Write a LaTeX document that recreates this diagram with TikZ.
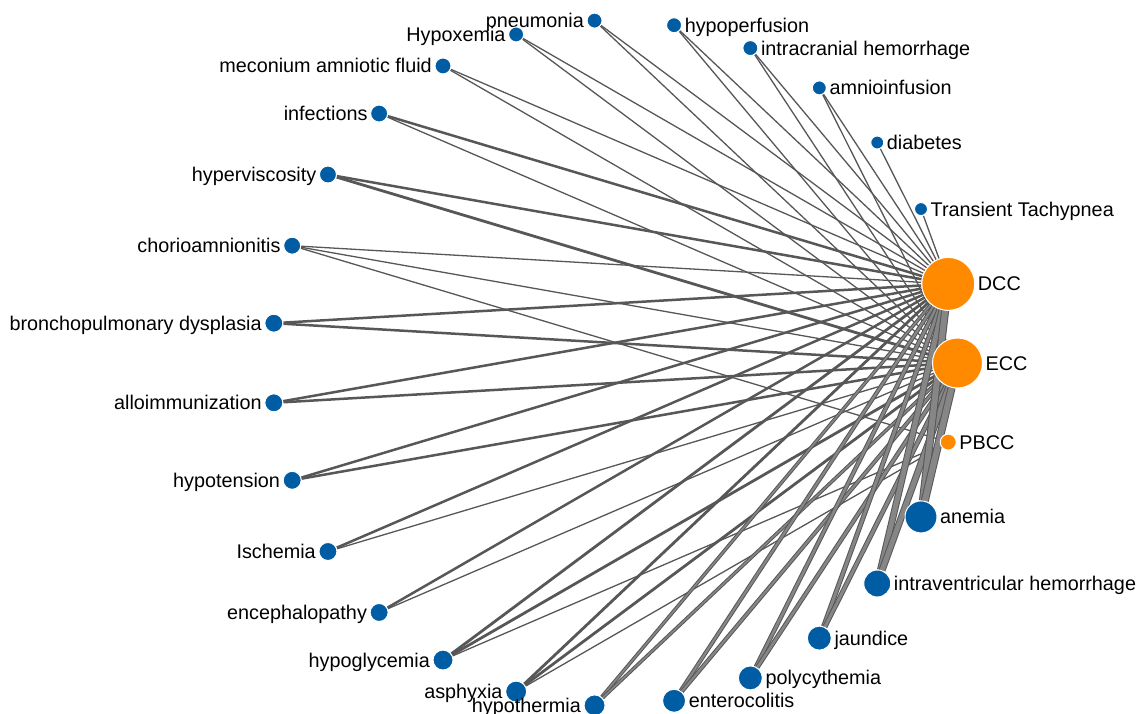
\documentclass[tikz,border=0pt]{standalone}
\usepackage{fontspec}
\setmainfont{Liberation Sans}
\definecolor{nblue}{HTML}{005CA3}
\definecolor{norange}{HTML}{FF8A00}
\definecolor{edark}{HTML}{575757}
\definecolor{elight}{HTML}{868686}
\pgfdeclarelayer{edgelayer}
\pgfsetlayers{edgelayer,main}
\newcommand\netnode[6]{%
  \node[vtx, fill=#4, minimum size={2*#3*1pt}] (#1) at ({614.5+343*cos(#2*360/27)},{363-343*sin(#2*360/27)}) {};
  \ifx R#6
    \node[lbl, anchor=base west] (#1-lbl) at ([xshift=2.5pt,yshift=-7pt]#1.east) {#5};
  \else
    \node[lbl, anchor=base east] (#1-lbl) at ([xshift=-2.5pt,yshift=-7pt]#1.west) {#5};
  \fi}
\begin{document}
\begin{tikzpicture}[x=1pt,y=-1pt,
  vtx/.style={circle, draw=white, line width=1pt, inner sep=0pt},
  lbl/.style={inner sep=0pt, font=\fontsize{19.8}{22}\selectfont, text=black},
  thin/.style={draw=edark, line width=1.3pt},
  mid/.style={draw=edark, line width=#1},
  wide/.style 2 args={draw=edark, line width=#1, postaction={draw=elight, line width=#2}}]
\useasboundingbox (0,0) rectangle (1136,713);
% hubs
\netnode{ecc}{0}{25}{norange}{ECC}{R}
\netnode{dcc}{1}{26.5}{norange}{DCC}{R}
\netnode{pbcc}{26}{8}{norange}{PBCC}{R}
% right top
\netnode{trans}{2}{6.5}{nblue}{Transient Tachypnea}{R}
\netnode{diab}{3}{6.5}{nblue}{diabetes}{R}
\netnode{amnio}{4}{7}{nblue}{amnioinfusion}{R}
\netnode{ich}{5}{7.5}{nblue}{intracranial hemorrhage}{R}
\netnode{hypoperf}{6}{7.5}{nblue}{hypoperfusion}{R}
% left
\netnode{pneu}{7}{7.5}{nblue}{pneumonia}{L}
\netnode{hypox}{8}{7.5}{nblue}{Hypoxemia}{L}
\netnode{mecon}{9}{8}{nblue}{meconium amniotic fluid}{L}
\netnode{infec}{10}{8.5}{nblue}{infections}{L}
\netnode{hypervis}{11}{8.5}{nblue}{hyperviscosity}{L}
\netnode{chorio}{12}{8.5}{nblue}{chorioamnionitis}{L}
\netnode{bpd}{13}{9}{nblue}{bronchopulmonary dysplasia}{L}
\netnode{allo}{14}{9}{nblue}{alloimmunization}{L}
\netnode{hypot}{15}{9}{nblue}{hypotension}{L}
\netnode{isch}{16}{9}{nblue}{Ischemia}{L}
\netnode{enceph}{17}{9}{nblue}{encephalopathy}{L}
\netnode{hypogly}{18}{10}{nblue}{hypoglycemia}{L}
\netnode{asphyx}{19}{10.5}{nblue}{asphyxia}{L}
\netnode{hypoth}{20}{10.5}{nblue}{hypothermia}{L}
% right bottom
\netnode{entero}{21}{11.5}{nblue}{enterocolitis}{R}
\netnode{polycy}{22}{12}{nblue}{polycythemia}{R}
\netnode{jaund}{23}{12}{nblue}{jaundice}{R}
\netnode{ivh}{24}{13.5}{nblue}{intraventricular hemorrhage}{R}
\netnode{anemia}{25}{16}{nblue}{anemia}{R}
\begin{pgfonlayer}{edgelayer}
  \draw[thin] (trans) -- (dcc);
  \draw[thin] (diab) -- (dcc);
  \draw[thin] (amnio) -- (dcc);
  \draw[thin] (amnio) -- (ecc);
  \draw[thin] (ich) -- (dcc);
  \draw[thin] (ich) -- (ecc);
  \draw[thin] (hypoperf) -- (dcc);
  \draw[thin] (hypoperf) -- (ecc);
  \draw[thin] (pneu) -- (dcc);
  \draw[thin] (pneu) -- (ecc);
  \draw[thin] (hypox) -- (dcc);
  \draw[thin] (hypox) -- (ecc);
  \draw[thin] (mecon) -- (dcc);
  \draw[thin] (mecon) -- (ecc);
  \draw[mid=2.5pt] (infec) -- (dcc);
  \draw[thin] (infec) -- (ecc);
  \draw[mid=2.5pt] (hypervis) -- (dcc);
  \draw[mid=2.8pt] (hypervis) -- (ecc);
  \draw[thin] (chorio) -- (dcc);
  \draw[thin] (chorio) -- (ecc);
  \draw[thin] (chorio) -- (pbcc);
  \draw[mid=2.5pt] (bpd) -- (dcc);
  \draw[mid=2.5pt] (bpd) -- (ecc);
  \draw[mid=2.5pt] (allo) -- (dcc);
  \draw[mid=2.5pt] (allo) -- (ecc);
  \draw[mid=2.5pt] (hypot) -- (dcc);
  \draw[mid=2.5pt] (hypot) -- (ecc);
  \draw[mid=2.5pt] (isch) -- (dcc);
  \draw[thin] (isch) -- (ecc);
  \draw[mid=2.5pt] (enceph) -- (dcc);
  \draw[thin] (enceph) -- (ecc);
  \draw[mid=2.8pt] (hypogly) -- (dcc);
  \draw[mid=2.8pt] (hypogly) -- (ecc);
  \draw[thin] (hypogly) -- (pbcc);
  \draw[mid=2.8pt] (asphyx) -- (dcc);
  \draw[mid=2.8pt] (asphyx) -- (ecc);
  \draw[thin] (asphyx) -- (pbcc);
  \draw[wide={3.6pt}{1.6pt}] (hypoth) -- (dcc);
  \draw[wide={3.6pt}{1.6pt}] (hypoth) -- (ecc);
  \draw[wide={4.2pt}{2.2pt}] (entero) -- (dcc);
  \draw[wide={4.2pt}{2.2pt}] (entero) -- (ecc);
  \draw[wide={4.6pt}{2.6pt}] (polycy) -- (dcc);
  \draw[wide={4.6pt}{2.6pt}] (polycy) -- (ecc);
  \draw[wide={5pt}{3pt}] (jaund) -- (dcc);
  \draw[wide={5pt}{3pt}] (jaund) -- (ecc);
  \draw[wide={7pt}{5pt}] (ivh) -- (dcc);
  \draw[wide={7pt}{5pt}] (ivh) -- (ecc);
  \draw[wide={8pt}{6pt}] (anemia) -- (dcc);
  \draw[wide={8pt}{6pt}] (anemia) -- (ecc);
\end{pgfonlayer}
\end{tikzpicture}
\end{document}
